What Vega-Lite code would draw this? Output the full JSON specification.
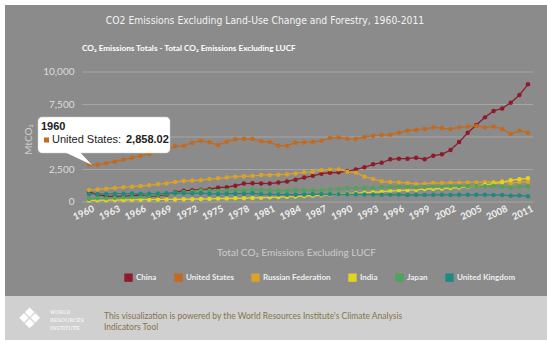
{
  "$schema": "https://vega.github.io/schema/vega-lite/v6.json",
  "width": 542,
  "height": 335,
  "autosize": {"type": "none"},
  "padding": {"left": 5, "top": 5, "right": 0, "bottom": 0},
  "background": "white",
  "config": {
    "view": {"fill": "#8b8b8b", "stroke": null},
    "font": "Lato"
  },
  "title": {"text": "CO2 Emissions Excluding Land-Use Change and Forestry, 1960-2011", "anchor": "middle", "offset": -26, "dx": -11, "baseline": "middle", "font": "Liberation Sans Narrow, DejaVu Sans Condensed, Roboto Condensed, Roboto, sans-serif", "fontSize": 10.3, "fontWeight": "normal", "color": "#f2f2f2"},
  "datasets": {
    "grid": [{"v": 0}, {"v": 2500}, {"v": 5000}, {"v": 7500}, {"v": 10000}],
    "yearticks": [{"year":1960},{"year":1963},{"year":1966},{"year":1969},{"year":1972},{"year":1975},{"year":1978},{"year":1981},{"year":1984},{"year":1987},{"year":1990},{"year":1993},{"year":1996},{"year":1999},{"year":2002},{"year":2005},{"year":2008},{"year":2011}],
    "emissions": [
      {"year":1960,"country":"China","value":780},{"year":1961,"country":"China","value":560},{"year":1962,"country":"China","value":450},{"year":1963,"country":"China","value":440},{"year":1964,"country":"China","value":440},{"year":1965,"country":"China","value":480},{"year":1966,"country":"China","value":530},{"year":1967,"country":"China","value":450},{"year":1968,"country":"China","value":480},{"year":1969,"country":"China","value":580},
      {"year":1970,"country":"China","value":770},{"year":1971,"country":"China","value":860},{"year":1972,"country":"China","value":910},{"year":1973,"country":"China","value":950},{"year":1974,"country":"China","value":980},{"year":1975,"country":"China","value":1100},{"year":1976,"country":"China","value":1140},{"year":1977,"country":"China","value":1250},{"year":1978,"country":"China","value":1420},{"year":1979,"country":"China","value":1440},
      {"year":1980,"country":"China","value":1430},{"year":1981,"country":"China","value":1420},{"year":1982,"country":"China","value":1500},{"year":1983,"country":"China","value":1580},{"year":1984,"country":"China","value":1720},{"year":1985,"country":"China","value":1880},{"year":1986,"country":"China","value":2010},{"year":1987,"country":"China","value":2180},{"year":1988,"country":"China","value":2250},{"year":1989,"country":"China","value":2280},
      {"year":1990,"country":"China","value":2380},{"year":1991,"country":"China","value":2510},{"year":1992,"country":"China","value":2670},{"year":1993,"country":"China","value":2900},{"year":1994,"country":"China","value":3020},{"year":1995,"country":"China","value":3280},{"year":1996,"country":"China","value":3330},{"year":1997,"country":"China","value":3330},{"year":1998,"country":"China","value":3410},{"year":1999,"country":"China","value":3290},
      {"year":2000,"country":"China","value":3560},{"year":2001,"country":"China","value":3670},{"year":2002,"country":"China","value":4000},{"year":2003,"country":"China","value":4610},{"year":2004,"country":"China","value":5330},{"year":2005,"country":"China","value":5920},{"year":2006,"country":"China","value":6510},{"year":2007,"country":"China","value":7000},{"year":2008,"country":"China","value":7200},{"year":2009,"country":"China","value":7640},{"year":2010,"country":"China","value":8230},{"year":2011,"country":"China","value":9050},

      {"year":1960,"country":"United States","value":2858.02},{"year":1961,"country":"United States","value":2860},{"year":1962,"country":"United States","value":2990},{"year":1963,"country":"United States","value":3110},{"year":1964,"country":"United States","value":3250},{"year":1965,"country":"United States","value":3400},{"year":1966,"country":"United States","value":3560},{"year":1967,"country":"United States","value":3690},{"year":1968,"country":"United States","value":3900},{"year":1969,"country":"United States","value":4050},
      {"year":1970,"country":"United States","value":4280},{"year":1971,"country":"United States","value":4320},{"year":1972,"country":"United States","value":4540},{"year":1973,"country":"United States","value":4720},{"year":1974,"country":"United States","value":4590},{"year":1975,"country":"United States","value":4380},{"year":1976,"country":"United States","value":4640},{"year":1977,"country":"United States","value":4820},{"year":1978,"country":"United States","value":4870},{"year":1979,"country":"United States","value":4850},
      {"year":1980,"country":"United States","value":4670},{"year":1981,"country":"United States","value":4590},{"year":1982,"country":"United States","value":4330},{"year":1983,"country":"United States","value":4330},{"year":1984,"country":"United States","value":4560},{"year":1985,"country":"United States","value":4590},{"year":1986,"country":"United States","value":4610},{"year":1987,"country":"United States","value":4720},{"year":1988,"country":"United States","value":4920},{"year":1989,"country":"United States","value":4970},
      {"year":1990,"country":"United States","value":4870},{"year":1991,"country":"United States","value":4850},{"year":1992,"country":"United States","value":5000},{"year":1993,"country":"United States","value":5100},{"year":1994,"country":"United States","value":5150},{"year":1995,"country":"United States","value":5180},{"year":1996,"country":"United States","value":5330},{"year":1997,"country":"United States","value":5490},{"year":1998,"country":"United States","value":5540},{"year":1999,"country":"United States","value":5620},
      {"year":2000,"country":"United States","value":5740},{"year":2001,"country":"United States","value":5690},{"year":2002,"country":"United States","value":5620},{"year":2003,"country":"United States","value":5740},{"year":2004,"country":"United States","value":5800},{"year":2005,"country":"United States","value":5850},{"year":2006,"country":"United States","value":5740},{"year":2007,"country":"United States","value":5800},{"year":2008,"country":"United States","value":5620},{"year":2009,"country":"United States","value":5230},{"year":2010,"country":"United States","value":5490},{"year":2011,"country":"United States","value":5330},

      {"year":1960,"country":"Russian Federation","value":920},{"year":1961,"country":"Russian Federation","value":970},{"year":1962,"country":"Russian Federation","value":1020},{"year":1963,"country":"Russian Federation","value":1080},{"year":1964,"country":"Russian Federation","value":1130},{"year":1965,"country":"Russian Federation","value":1180},{"year":1966,"country":"Russian Federation","value":1230},{"year":1967,"country":"Russian Federation","value":1280},{"year":1968,"country":"Russian Federation","value":1360},{"year":1969,"country":"Russian Federation","value":1430},
      {"year":1970,"country":"Russian Federation","value":1540},{"year":1971,"country":"Russian Federation","value":1610},{"year":1972,"country":"Russian Federation","value":1650},{"year":1973,"country":"Russian Federation","value":1690},{"year":1974,"country":"Russian Federation","value":1760},{"year":1975,"country":"Russian Federation","value":1820},{"year":1976,"country":"Russian Federation","value":1880},{"year":1977,"country":"Russian Federation","value":1950},{"year":1978,"country":"Russian Federation","value":1980},{"year":1979,"country":"Russian Federation","value":2000},
      {"year":1980,"country":"Russian Federation","value":2080},{"year":1981,"country":"Russian Federation","value":2080},{"year":1982,"country":"Russian Federation","value":2100},{"year":1983,"country":"Russian Federation","value":2130},{"year":1984,"country":"Russian Federation","value":2200},{"year":1985,"country":"Russian Federation","value":2280},{"year":1986,"country":"Russian Federation","value":2330},{"year":1987,"country":"Russian Federation","value":2440},{"year":1988,"country":"Russian Federation","value":2510},{"year":1989,"country":"Russian Federation","value":2510},
      {"year":1990,"country":"Russian Federation","value":2330},{"year":1991,"country":"Russian Federation","value":2260},{"year":1992,"country":"Russian Federation","value":1950},{"year":1993,"country":"Russian Federation","value":1770},{"year":1994,"country":"Russian Federation","value":1590},{"year":1995,"country":"Russian Federation","value":1540},{"year":1996,"country":"Russian Federation","value":1510},{"year":1997,"country":"Russian Federation","value":1460},{"year":1998,"country":"Russian Federation","value":1390},{"year":1999,"country":"Russian Federation","value":1410},
      {"year":2000,"country":"Russian Federation","value":1460},{"year":2001,"country":"Russian Federation","value":1460},{"year":2002,"country":"Russian Federation","value":1490},{"year":2003,"country":"Russian Federation","value":1490},{"year":2004,"country":"Russian Federation","value":1510},{"year":2005,"country":"Russian Federation","value":1510},{"year":2006,"country":"Russian Federation","value":1540},{"year":2007,"country":"Russian Federation","value":1540},{"year":2008,"country":"Russian Federation","value":1590},{"year":2009,"country":"Russian Federation","value":1440},{"year":2010,"country":"Russian Federation","value":1540},{"year":2011,"country":"Russian Federation","value":1560},

      {"year":1960,"country":"India","value":120},{"year":1961,"country":"India","value":130},{"year":1962,"country":"India","value":140},{"year":1963,"country":"India","value":150},{"year":1964,"country":"India","value":155},{"year":1965,"country":"India","value":170},{"year":1966,"country":"India","value":175},{"year":1967,"country":"India","value":180},{"year":1968,"country":"India","value":195},{"year":1969,"country":"India","value":200},
      {"year":1970,"country":"India","value":200},{"year":1971,"country":"India","value":210},{"year":1972,"country":"India","value":220},{"year":1973,"country":"India","value":230},{"year":1974,"country":"India","value":240},{"year":1975,"country":"India","value":260},{"year":1976,"country":"India","value":270},{"year":1977,"country":"India","value":285},{"year":1978,"country":"India","value":290},{"year":1979,"country":"India","value":310},
      {"year":1980,"country":"India","value":330},{"year":1981,"country":"India","value":360},{"year":1982,"country":"India","value":380},{"year":1983,"country":"India","value":400},{"year":1984,"country":"India","value":420},{"year":1985,"country":"India","value":460},{"year":1986,"country":"India","value":490},{"year":1987,"country":"India","value":520},{"year":1988,"country":"India","value":560},{"year":1989,"country":"India","value":600},
      {"year":1990,"country":"India","value":640},{"year":1991,"country":"India","value":680},{"year":1992,"country":"India","value":720},{"year":1993,"country":"India","value":750},{"year":1994,"country":"India","value":790},{"year":1995,"country":"India","value":850},{"year":1996,"country":"India","value":880},{"year":1997,"country":"India","value":920},{"year":1998,"country":"India","value":940},{"year":1999,"country":"India","value":1000},
      {"year":2000,"country":"India","value":1020},{"year":2001,"country":"India","value":1040},{"year":2002,"country":"India","value":1070},{"year":2003,"country":"India","value":1110},{"year":2004,"country":"India","value":1180},{"year":2005,"country":"India","value":1240},{"year":2006,"country":"India","value":1320},{"year":2007,"country":"India","value":1420},{"year":2008,"country":"India","value":1520},{"year":2009,"country":"India","value":1680},{"year":2010,"country":"India","value":1750},{"year":2011,"country":"India","value":1820},

      {"year":1960,"country":"Japan","value":232},{"year":1961,"country":"Japan","value":283},{"year":1962,"country":"Japan","value":293},{"year":1963,"country":"Japan","value":334},{"year":1964,"country":"Japan","value":373},{"year":1965,"country":"Japan","value":386},{"year":1966,"country":"Japan","value":418},{"year":1967,"country":"Japan","value":489},{"year":1968,"country":"Japan","value":557},{"year":1969,"country":"Japan","value":636},
      {"year":1970,"country":"Japan","value":739},{"year":1971,"country":"Japan","value":765},{"year":1972,"country":"Japan","value":815},{"year":1973,"country":"Japan","value":906},{"year":1974,"country":"Japan","value":888},{"year":1975,"country":"Japan","value":850},{"year":1976,"country":"Japan","value":885},{"year":1977,"country":"Japan","value":912},{"year":1978,"country":"Japan","value":885},{"year":1979,"country":"Japan","value":935},
      {"year":1980,"country":"Japan","value":930},{"year":1981,"country":"Japan","value":900},{"year":1982,"country":"Japan","value":880},{"year":1983,"country":"Japan","value":870},{"year":1984,"country":"Japan","value":925},{"year":1985,"country":"Japan","value":905},{"year":1986,"country":"Japan","value":900},{"year":1987,"country":"Japan","value":895},{"year":1988,"country":"Japan","value":970},{"year":1989,"country":"Japan","value":1010},
      {"year":1990,"country":"Japan","value":1070},{"year":1991,"country":"Japan","value":1080},{"year":1992,"country":"Japan","value":1090},{"year":1993,"country":"Japan","value":1080},{"year":1994,"country":"Japan","value":1130},{"year":1995,"country":"Japan","value":1140},{"year":1996,"country":"Japan","value":1160},{"year":1997,"country":"Japan","value":1160},{"year":1998,"country":"Japan","value":1120},{"year":1999,"country":"Japan","value":1160},
      {"year":2000,"country":"Japan","value":1190},{"year":2001,"country":"Japan","value":1180},{"year":2002,"country":"Japan","value":1210},{"year":2003,"country":"Japan","value":1220},{"year":2004,"country":"Japan","value":1220},{"year":2005,"country":"Japan","value":1230},{"year":2006,"country":"Japan","value":1210},{"year":2007,"country":"Japan","value":1250},{"year":2008,"country":"Japan","value":1170},{"year":2009,"country":"Japan","value":1100},{"year":2010,"country":"Japan","value":1170},{"year":2011,"country":"Japan","value":1200},

      {"year":1960,"country":"United Kingdom","value":600},{"year":1961,"country":"United Kingdom","value":610},{"year":1962,"country":"United Kingdom","value":620},{"year":1963,"country":"United Kingdom","value":640},{"year":1964,"country":"United Kingdom","value":640},{"year":1965,"country":"United Kingdom","value":650},{"year":1966,"country":"United Kingdom","value":640},{"year":1967,"country":"United Kingdom","value":630},{"year":1968,"country":"United Kingdom","value":650},{"year":1969,"country":"United Kingdom","value":670},
      {"year":1970,"country":"United Kingdom","value":680},{"year":1971,"country":"United Kingdom","value":670},{"year":1972,"country":"United Kingdom","value":660},{"year":1973,"country":"United Kingdom","value":680},{"year":1974,"country":"United Kingdom","value":640},{"year":1975,"country":"United Kingdom","value":620},{"year":1976,"country":"United Kingdom","value":630},{"year":1977,"country":"United Kingdom","value":640},{"year":1978,"country":"United Kingdom","value":640},{"year":1979,"country":"United Kingdom","value":670},
      {"year":1980,"country":"United Kingdom","value":600},{"year":1981,"country":"United Kingdom","value":580},{"year":1982,"country":"United Kingdom","value":570},{"year":1983,"country":"United Kingdom","value":560},{"year":1984,"country":"United Kingdom","value":550},{"year":1985,"country":"United Kingdom","value":580},{"year":1986,"country":"United Kingdom","value":590},{"year":1987,"country":"United Kingdom","value":590},{"year":1988,"country":"United Kingdom","value":590},{"year":1989,"country":"United Kingdom","value":590},
      {"year":1990,"country":"United Kingdom","value":590},{"year":1991,"country":"United Kingdom","value":600},{"year":1992,"country":"United Kingdom","value":580},{"year":1993,"country":"United Kingdom","value":570},{"year":1994,"country":"United Kingdom","value":560},{"year":1995,"country":"United Kingdom","value":550},{"year":1996,"country":"United Kingdom","value":570},{"year":1997,"country":"United Kingdom","value":540},{"year":1998,"country":"United Kingdom","value":540},{"year":1999,"country":"United Kingdom","value":540},
      {"year":2000,"country":"United Kingdom","value":550},{"year":2001,"country":"United Kingdom","value":560},{"year":2002,"country":"United Kingdom","value":540},{"year":2003,"country":"United Kingdom","value":550},{"year":2004,"country":"United Kingdom","value":550},{"year":2005,"country":"United Kingdom","value":550},{"year":2006,"country":"United Kingdom","value":550},{"year":2007,"country":"United Kingdom","value":540},{"year":2008,"country":"United Kingdom","value":530},{"year":2009,"country":"United Kingdom","value":480},{"year":2010,"country":"United Kingdom","value":500},{"year":2011,"country":"United Kingdom","value":450}
    ]
  },
  "layer": [
    {
      "data": {"values": [{}]},
      "mark": {"type": "rect", "color": "#d0d0d0"},
      "encoding": {
        "x": {"datum": 1950.2414, "type": "quantitative", "scale": {"domain": [1950.2414, 2013.2073], "nice": false, "zero": false},
          "axis": {"orient": "bottom", "offset": -138, "values": [1960], "labels": false, "ticks": false, "domain": false, "grid": false, "title": "Total CO₂ Emissions Excluding LUCF", "titleX": 291, "titleY": 50, "titleAlign": "center", "titleBaseline": "middle", "titleFont": "Lato", "titleFontSize": 10, "titleFontWeight": "normal", "titleColor": "#cccccc"}},
        "x2": {"datum": 2013.2073},
        "y": {"datum": -7230.8, "type": "quantitative", "scale": {"domain": [-10615.4, 15153.8], "nice": false, "zero": false},
          "axis": {"orient": "left", "offset": -69, "values": [0, 2500, 7500, 10000], "format": ",d", "ticks": false, "domain": false, "grid": false, "labelPadding": 0, "labelOverlap": false, "labelFlush": false, "labelFont": "Lato", "labelFontSize": 10, "labelColor": "#dddddd", "labelBaseline": "middle", "title": "MtCO₂", "titleX": -46, "titleY": 134, "titleAngle": -90, "titleAlign": "center", "titleBaseline": "middle", "titleFont": "Lato", "titleFontSize": 10, "titleFontWeight": "normal", "titleColor": "#cfcfcf"}},
        "y2": {"datum": -10615.4}
      }
    },
    {
      "data": {"name": "grid"},
      "mark": {"type": "rule", "color": "#a6a6a6", "strokeWidth": 1},
      "encoding": {
        "x": {"datum": 1959.2, "type": "quantitative", "scale": {"domain": [1950.2414, 2013.2073], "nice": false, "zero": false}},
        "x2": {"datum": 2011.6},
        "y": {"field": "v", "type": "quantitative", "scale": {"domain": [-10615.4, 15153.8], "nice": false, "zero": false}}
      }
    },
    {
      "data": {"name": "yearticks"},
      "mark": {"type": "text", "angle": 335, "align": "right", "baseline": "top", "dx": 3, "font": "Lato", "fontWeight": "bold", "fontSize": 9.5, "color": "#f0f0f0"},
      "encoding": {
        "x": {"field": "year", "type": "quantitative", "scale": {"domain": [1950.2414, 2013.2073], "nice": false, "zero": false}},
        "y": {"datum": -230.8, "type": "quantitative", "scale": {"domain": [-10615.4, 15153.8], "nice": false, "zero": false}},
        "text": {"field": "year", "type": "quantitative", "format": "d"}
      }
    },
    {
      "data": {"name": "emissions"},
      "mark": {"type": "line", "strokeWidth": 1.3},
      "encoding": {
        "x": {"field": "year", "type": "quantitative", "scale": {"domain": [1950.2414, 2013.2073], "nice": false, "zero": false}},
        "y": {"field": "value", "type": "quantitative", "scale": {"domain": [-10615.4, 15153.8], "nice": false, "zero": false}},
        "color": {"field": "country", "type": "nominal", "scale": {"domain": ["China", "United States", "Russian Federation", "India", "Japan", "United Kingdom"], "range": ["#8e1b2b", "#c46a1f", "#d9a327", "#e2d423", "#4fa35a", "#1f8a80"]},
          "legend": {"orient": "none", "legendX": 119, "legendY": 268, "direction": "horizontal", "columns": 6, "title": null, "symbolType": "square", "symbolSize": 70, "symbolStrokeWidth": 0, "labelFont": "Lato", "labelFontSize": 8, "labelFontWeight": "bold", "labelColor": "#eeeeee", "labelOffset": 3, "columnPadding": 17, "padding": 0, "symbolOpacity": 1,
            "encode": {"symbols": {"update": {"fill": {"scale": "color", "field": "value"}, "strokeWidth": {"value": 0}}}}}}
      }
    },
    {
      "data": {"name": "emissions"},
      "mark": {"type": "point", "filled": true, "size": 20, "opacity": 1},
      "encoding": {
        "x": {"field": "year", "type": "quantitative", "scale": {"domain": [1950.2414, 2013.2073], "nice": false, "zero": false}},
        "y": {"field": "value", "type": "quantitative", "scale": {"domain": [-10615.4, 15153.8], "nice": false, "zero": false}},
        "color": {"field": "country", "type": "nominal", "scale": {"domain": ["China", "United States", "Russian Federation", "India", "Japan", "United Kingdom"], "range": ["#8e1b2b", "#c46a1f", "#d9a327", "#e2d423", "#4fa35a", "#1f8a80"]}}
      }
    },
    {
      "data": {"values": [{}]},
      "mark": {"type": "rect", "color": "white", "cornerRadius": 4, "stroke": "#cfcfcf", "strokeWidth": 0.5},
      "encoding": {
        "x": {"datum": 1954.075, "type": "quantitative"}, "x2": {"datum": 1969.41},
        "y": {"datum": 6538, "type": "quantitative"}, "y2": {"datum": 3769}
      }
    },
    {
      "data": {"values": [{}]},
      "mark": {"type": "point", "filled": true, "color": "white", "opacity": 1, "size": 729, "shape": "M-1,-0.5L0.111,-0.5L1,0.444Z"},
      "encoding": {"x": {"datum": 1958.78, "type": "quantitative"}, "y": {"datum": 3308, "type": "quantitative"}}
    },
    {
      "data": {"values": [{}]},
      "mark": {"type": "text", "text": "1960", "align": "left", "baseline": "middle", "font": "Liberation Sans", "fontSize": 11, "fontWeight": "bold", "color": "#222222"},
      "encoding": {"x": {"datum": 1954.424, "type": "quantitative"}, "y": {"datum": 5769, "type": "quantitative"}}
    },
    {
      "data": {"values": [{}]},
      "mark": {"type": "point", "shape": "square", "filled": true, "size": 25, "color": "#c46a1f", "opacity": 1},
      "encoding": {"x": {"datum": 1955.063, "type": "quantitative"}, "y": {"datum": 4769, "type": "quantitative"}}
    },
    {
      "data": {"values": [{}]},
      "mark": {"type": "text", "text": "United States:", "align": "left", "baseline": "middle", "font": "Liberation Sans", "fontSize": 11, "color": "#222222"},
      "encoding": {"x": {"datum": 1955.702, "type": "quantitative"}, "y": {"datum": 4769, "type": "quantitative"}}
    },
    {
      "data": {"values": [{}]},
      "mark": {"type": "text", "text": "2,858.02", "align": "left", "baseline": "middle", "font": "Liberation Sans", "fontSize": 11, "fontWeight": "bold", "color": "#222222"},
      "encoding": {"x": {"datum": 1964.298, "type": "quantitative"}, "y": {"datum": 4769, "type": "quantitative"}}
    },
    {
      "data": {"values": [{}]},
      "mark": {"type": "text", "text": "CO₂ Emissions Totals - Total CO₂ Emissions Excluding LUCF", "align": "left", "baseline": "middle", "font": "Lato", "fontSize": 8.2, "fontWeight": "bold", "color": "#ffffff"},
      "encoding": {"x": {"datum": 1959.187, "type": "quantitative"}, "y": {"datum": 11769, "type": "quantitative"}}
    },
    {
      "data": {"values": [{}]},
      "mark": {"type": "text", "text": ["This visualization is powered by the World Resources Institute's Climate Analysis", "Indicators Tool"], "align": "left", "baseline": "top", "lineHeight": 11.5, "font": "Lato", "fontSize": 8.5, "color": "#857548"},
      "encoding": {"x": {"datum": 1961.743, "type": "quantitative"}, "y": {"datum": -8461.5, "type": "quantitative"}}
    },
    {
      "data": {"values": [{}]},
      "mark": {"type": "text", "text": ["WORLD", "RESOURCES", "INSTITUTE"], "align": "left", "baseline": "top", "lineHeight": 8, "font": "DejaVu Serif", "fontSize": 5, "color": "#ffffff"},
      "encoding": {"x": {"datum": 1955.469, "type": "quantitative"}, "y": {"datum": -8307.7, "type": "quantitative"}}
    },
    {
      "data": {"values": [{}]},
      "mark": {"type": "text", "text": "❖", "align": "center", "baseline": "middle", "font": "DejaVu Sans", "fontSize": 28, "color": "#ffffff"},
      "encoding": {"x": {"datum": 1953.088, "type": "quantitative"}, "y": {"datum": -9076.9, "type": "quantitative"}}
    }
  ]
}
